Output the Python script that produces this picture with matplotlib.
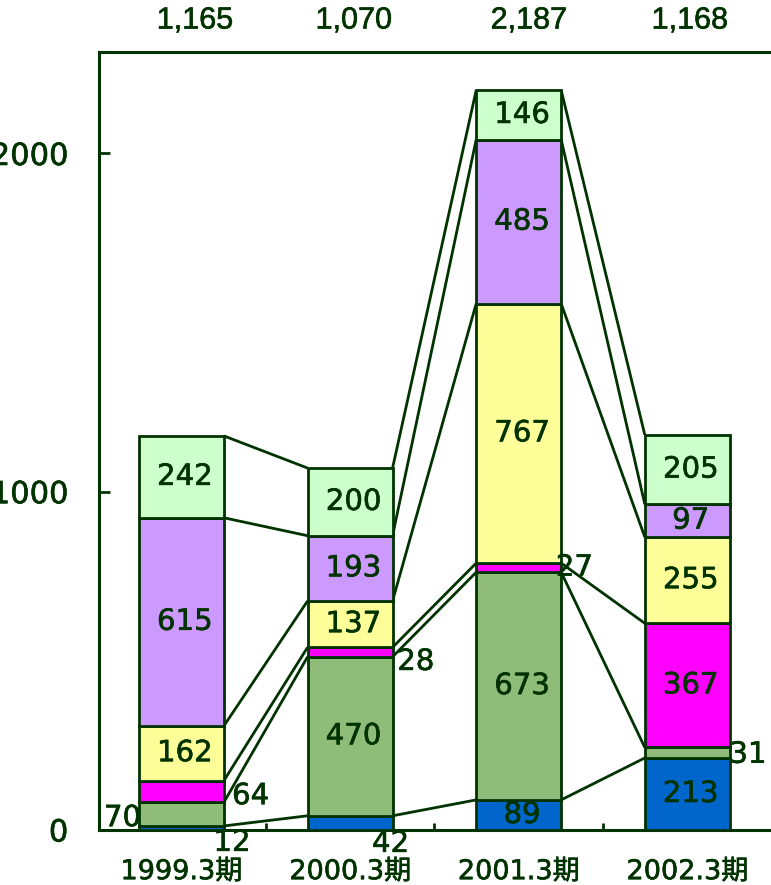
import matplotlib
matplotlib.use("Agg")
import matplotlib.pyplot as plt
import matplotlib.patheffects as pe
import numpy as np
from matplotlib.ticker import FixedLocator

categories = ["1999.3期", "2000.3期", "2001.3期", "2002.3期"]
blue = [12, 42, 89, 213]
green = [70, 470, 673, 31]
magenta = [64, 28, 27, 367]
yellow = [162, 137, 767, 255]
purple = [615, 193, 485, 97]
lightgreen = [242, 200, 146, 205]
totals = ["1,165", "1,070", "2,187", "1,168"]
yticks = [0, 1000, 2000]

series = [blue, green, magenta, yellow, purple, lightgreen]
colors = ["#0066CC", "#8FBC78", "#FF00FF", "#FFFF99", "#CC99FF", "#CCFFCC"]
ink = "#003300"

thick = [pe.withStroke(linewidth=0.45, foreground=ink)]

# labels placed outside the bar: (series index, category index) -> (dx, dy in data)
outside = {
    (0, 0): (0.30, -44),
    (1, 0): (-0.35, -12),
    (2, 0): (0.41, -14),
    (0, 1): (0.24, -62),
    (2, 1): (0.39, -29),
    (2, 2): (0.33, 0),
    (1, 3): (0.36, -6),
}

W, H = 771, 885
fig = plt.figure(figsize=(W / 100, H / 100), dpi=100)
x0, x1 = 98.8, 775.0
ybot, ytop = 830, 52
ax = fig.add_axes([x0 / W, 1 - ybot / H, (x1 - x0) / W, (ybot - ytop) / H])

n = len(categories)
x = np.arange(n)
width = 0.504
bottoms = np.zeros(n)
cum_levels = []
for vals, col in zip(series, colors):
    vals = np.array(vals, dtype=float)
    ax.bar(x, vals, width=width, bottom=bottoms, color=col, edgecolor=ink,
           linewidth=2.0, zorder=3)
    bottoms = bottoms + vals
    cum_levels.append(bottoms.copy())

# connector lines between bars at each cumulative level
for lev in cum_levels:
    for i in range(n - 1):
        ax.plot([x[i] + width / 2, x[i + 1] - width / 2], [lev[i], lev[i + 1]],
                color=ink, linewidth=2.0, zorder=2, solid_capstyle="butt")

# value labels
bottoms = np.zeros(n)
for si, vals in enumerate(series):
    for ci, v in enumerate(vals):
        mid = bottoms[ci] + v / 2
        if (si, ci) in outside:
            dx, dy = outside[(si, ci)]
            ax.text(x[ci] + dx, mid + dy, str(v), ha="center", va="center",
                    fontsize=21, color=ink, family="DejaVu Sans", zorder=5,
                    clip_on=False, path_effects=thick)
        else:
            ax.text(x[ci] + 0.02, mid, str(v), ha="center", va="center",
                    fontsize=21, color=ink, family="DejaVu Sans", zorder=5,
                    path_effects=thick)
    bottoms = bottoms + np.array(vals)

# totals above the plot
tot_dx = [0.08, 0.023, 0.06, 0.015]
for ci, t in enumerate(totals):
    ax.text(x[ci] + tot_dx[ci], 2393, t, ha="center", va="center",
            fontsize=22, color=ink, family="Liberation Sans", clip_on=False,
            path_effects=thick)

ax.set_xlim(-0.49, 3.52)
ax.set_ylim(0, 2300)

ax.set_yticks(yticks)
ax.set_yticklabels([str(v) for v in yticks], family="DejaVu Sans", fontsize=22,
                   color=ink)
ax.tick_params(axis="y", direction="in", length=8, width=2.0, color=ink, pad=22)
for t in ax.get_yticklabels():
    t.set_path_effects(thick)

ax.set_xticks(x)
ax.set_xticklabels(categories, family=["DejaVu Sans", "Noto Sans CJK JP"],
                   fontsize=19.5, color=ink)
for t in ax.get_xticklabels():
    t.set_path_effects(thick)
ax.xaxis.set_minor_locator(FixedLocator([0.5, 1.5, 2.5]))
ax.tick_params(axis="x", which="major", length=0, pad=21)
ax.tick_params(axis="x", which="minor", direction="in", length=5, width=2.0,
               color=ink)

for sp in ax.spines.values():
    sp.set_color(ink)
    sp.set_linewidth(2.2)

fig.savefig("out.png", dpi=100)
